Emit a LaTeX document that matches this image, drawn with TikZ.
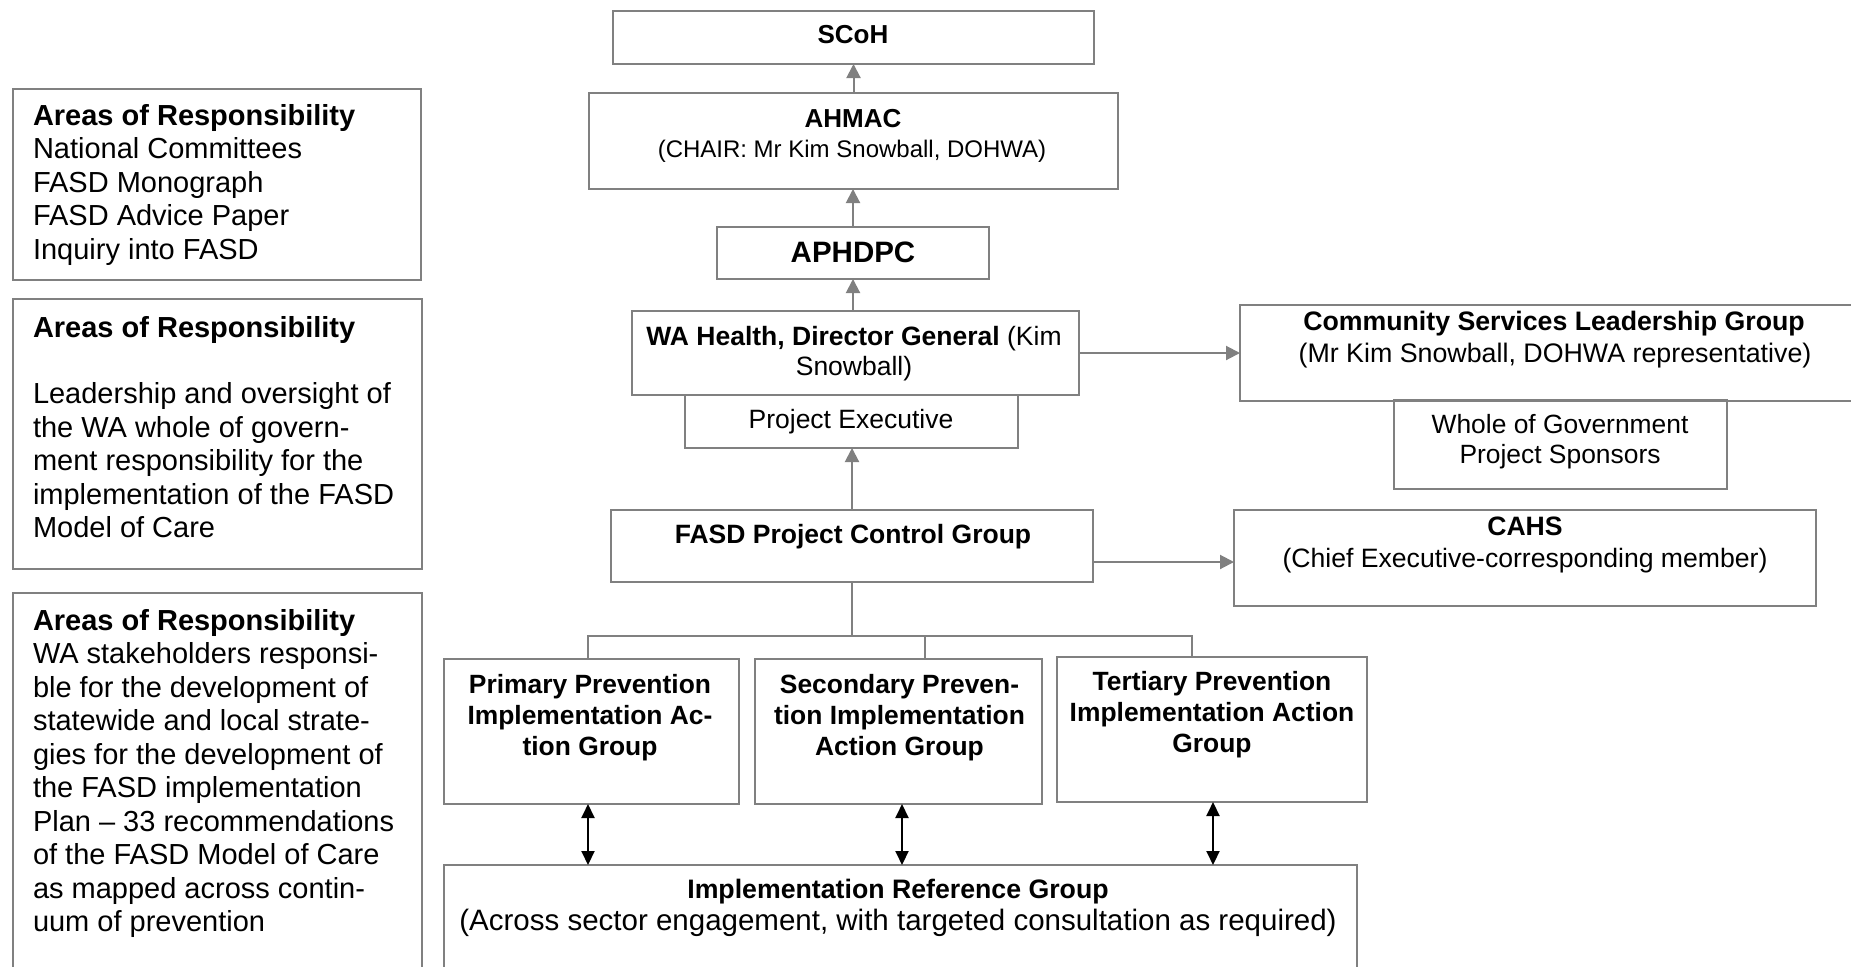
\documentclass[tikz,border=0pt]{standalone}
\usepackage{fontspec}
\setmainfont{Liberation Sans}
\usetikzlibrary{arrows.meta,calc}
\definecolor{bordergray}{RGB}{128,128,128}
\newcommand{\myfs}[2]{\fontsize{#1pt}{#2pt}\selectfont}
\tikzset{
  box/.style={draw=bordergray, line width=2pt, rectangle, inner sep=0pt, outer sep=0pt},
  txt/.style={inner sep=0pt, outer sep=0pt, text=black},
  garrow/.style={draw=bordergray, line width=2pt, -{Triangle[length=14pt,width=14pt]}},
  darrow/.style={draw=black, line width=2pt, {Triangle[length=14pt,width=13pt]}-{Triangle[length=14pt,width=13pt]}},
  tline/.style={draw=bordergray, line width=2pt},
}
\begin{document}
\begin{tikzpicture}[x=1pt,y=-1pt]
\useasboundingbox (0,0) rectangle (1851,966);
\fill[white] (0,0) rectangle (1851,966);
\clip (0,0) rectangle (1851,966);

% ---------- left column boxes ----------
\node[box, minimum width=408pt, minimum height=191pt] (b1) at (217,184.5) {};
\node[box, minimum width=409pt, minimum height=270pt] (b2) at (217.5,434) {};
\node[box, minimum width=409pt, minimum height=407pt] (b3) at (217.5,796.5) {};

\node[txt, anchor=north west, align=left, font=\myfs{29}{33.6}] (t1) at (33,101)
 {\rule{0pt}{24pt}\textbf{Areas of Responsibility}\\National Committees\\FASD Monograph\\FASD Advice Paper\\Inquiry into FASD};
\node[txt, anchor=north west, align=left, font=\myfs{29}{33.4}] (t2) at (33,313)
 {\rule{0pt}{24pt}\textbf{Areas of Responsibility}\\[33.4pt]Leadership and oversight of\\the WA whole of govern-\\ment responsibility for the\\implementation of the FASD\\Model of Care};
\node[txt, anchor=north west, align=left, font=\myfs{29}{33.5}] (t3) at (33,606)
 {\rule{0pt}{24pt}\textbf{Areas of Responsibility}\\WA stakeholders responsi-\\ble for the development of\\statewide and local strate-\\gies for the development of\\the FASD implementation\\Plan – 33 recommendations\\of the FASD Model of Care\\as mapped across contin-\\uum of prevention};

% ---------- central column ----------
\node[box, minimum width=481pt, minimum height=53pt] (scoh) at (853.5,37.5) {};
\node[box, minimum width=529pt, minimum height=96pt] (ahmac) at (853.5,141) {};
\node[box, minimum width=272pt, minimum height=52pt] (aphdpc) at (853,253) {};
\node[box, minimum width=447pt, minimum height=84pt] (wa) at (855.5,353) {};
\node[box, minimum width=333pt, minimum height=53pt] (pe) at (851.5,421.5) {};
\node[box, minimum width=482pt, minimum height=72pt] (pcg) at (852,546) {};

\node[txt, anchor=base, font=\bfseries\myfs{26}{30}] (tscoh) at (853,44) {SCoH};
\node[txt, anchor=base, font=\bfseries\myfs{26}{30}] (tahmac) at (853,127) {AHMAC};
\node[txt, anchor=base, font=\myfs{24}{28}] (tchair) at (852,157) {(CHAIR: Mr Kim Snowball, DOHWA)};
\node[txt, anchor=base, font=\bfseries\myfs{29.5}{34}] (taph) at (853,262) {APHDPC};
\node[txt, anchor=north, align=center, font=\myfs{26.5}{30}] (twa) at (854,323)
 {\rule{0pt}{22pt}\textbf{WA Health, Director General} (Kim\\Snowball)};
\node[txt, anchor=base, font=\myfs{26.5}{30}] (tpe) at (851,428) {Project Executive};
\node[txt, anchor=base, font=\bfseries\myfs{26.5}{30}] (tpcg) at (853,543) {FASD Project Control Group};

% ---------- right column ----------
\node[box, minimum width=660pt, minimum height=96pt] (cslg) at (1570,353) {};
\node[box, minimum width=333pt, minimum height=89pt] (wgps) at (1560.5,444.5) {};
\node[box, minimum width=582pt, minimum height=96pt] (cahs) at (1525,558) {};

\node[txt, anchor=base, font=\bfseries\myfs{26.7}{30}] (tcslg) at (1554,330) {Community Services Leadership Group};
\node[txt, anchor=base, font=\myfs{26.8}{30}] (tcslg2) at (1555,362) {(Mr Kim Snowball, DOHWA representative)};
\node[txt, anchor=north, align=center, font=\myfs{26.4}{30}] (twgps) at (1560,411)
 {\rule{0pt}{22pt}Whole of Government\\Project Sponsors};
\node[txt, anchor=base, font=\bfseries\myfs{26.6}{30}] (tcahs) at (1525,535) {CAHS};
\node[txt, anchor=base, font=\myfs{26.6}{30}] (tcahs2) at (1525,567) {(Chief Executive-corresponding member)};

% ---------- action groups ----------
\node[box, minimum width=295pt, minimum height=145pt] (prim) at (591.5,731.5) {};
\node[box, minimum width=287pt, minimum height=145pt] (sec) at (898.5,731.5) {};
\node[box, minimum width=310pt, minimum height=145pt] (ter) at (1212,729.5) {};
\node[box, minimum width=913pt, minimum height=135pt] (irg) at (900.5,932.5) {};

\node[txt, anchor=north, align=center, font=\bfseries\myfs{26.4}{31}] (tprim) at (590,671)
 {\rule{0pt}{22pt}Primary Prevention\\Implementation Ac-\\tion Group};
\node[txt, anchor=north, align=center, font=\bfseries\myfs{26.4}{31}] (tsec) at (899.5,671)
 {\rule{0pt}{22pt}Secondary Preven-\\tion Implementation\\Action Group};
\node[txt, anchor=north, align=center, font=\bfseries\myfs{26.4}{31}] (tter) at (1212,668)
 {\rule{0pt}{22pt}Tertiary Prevention\\Implementation Action\\Group};
\node[txt, anchor=base, font=\bfseries\myfs{26.7}{30}] (tirg) at (898,898) {Implementation Reference Group};
\node[txt, anchor=base, font=\myfs{29.5}{33}] (tirg2) at (898,930) {(Across sector engagement, with targeted consultation as required)};

% ---------- connectors ----------
\draw[garrow] (ahmac.north) -- (ahmac.north |- scoh.south);
\draw[garrow] (aphdpc.north) -- (aphdpc.north |- ahmac.south);
\draw[garrow] (aphdpc.south |- wa.north) -- (aphdpc.south);
\draw[garrow] (pcg.north) -- (pcg.north |- pe.south);
\draw[garrow] (wa.east) -- (cslg.west);
\coordinate (cahsin) at ($(cahs.west)+(0,4)$);
\draw[garrow] (pcg.east |- cahsin) -- (cahsin);

\coordinate (hub) at (852,636);
\coordinate (jp) at (588,636);
\coordinate (js) at (925,636);
\coordinate (jt) at (1192,636);
\draw[tline] (pcg.south) -- (hub);
\draw[tline] (jp |- prim.north) -- (jp) -- (jt) -- (jt |- ter.north);
\draw[tline] (js) -- (js |- sec.north);

\coordinate (xp) at (588,0);
\coordinate (xs) at (902,0);
\coordinate (xt) at (1213,0);
\draw[darrow] (xp |- prim.south) -- (xp |- irg.north);
\draw[darrow] (xs |- sec.south) -- (xs |- irg.north);
\draw[darrow] (xt |- ter.south) -- (xt |- irg.north);
\end{tikzpicture}
\end{document}
